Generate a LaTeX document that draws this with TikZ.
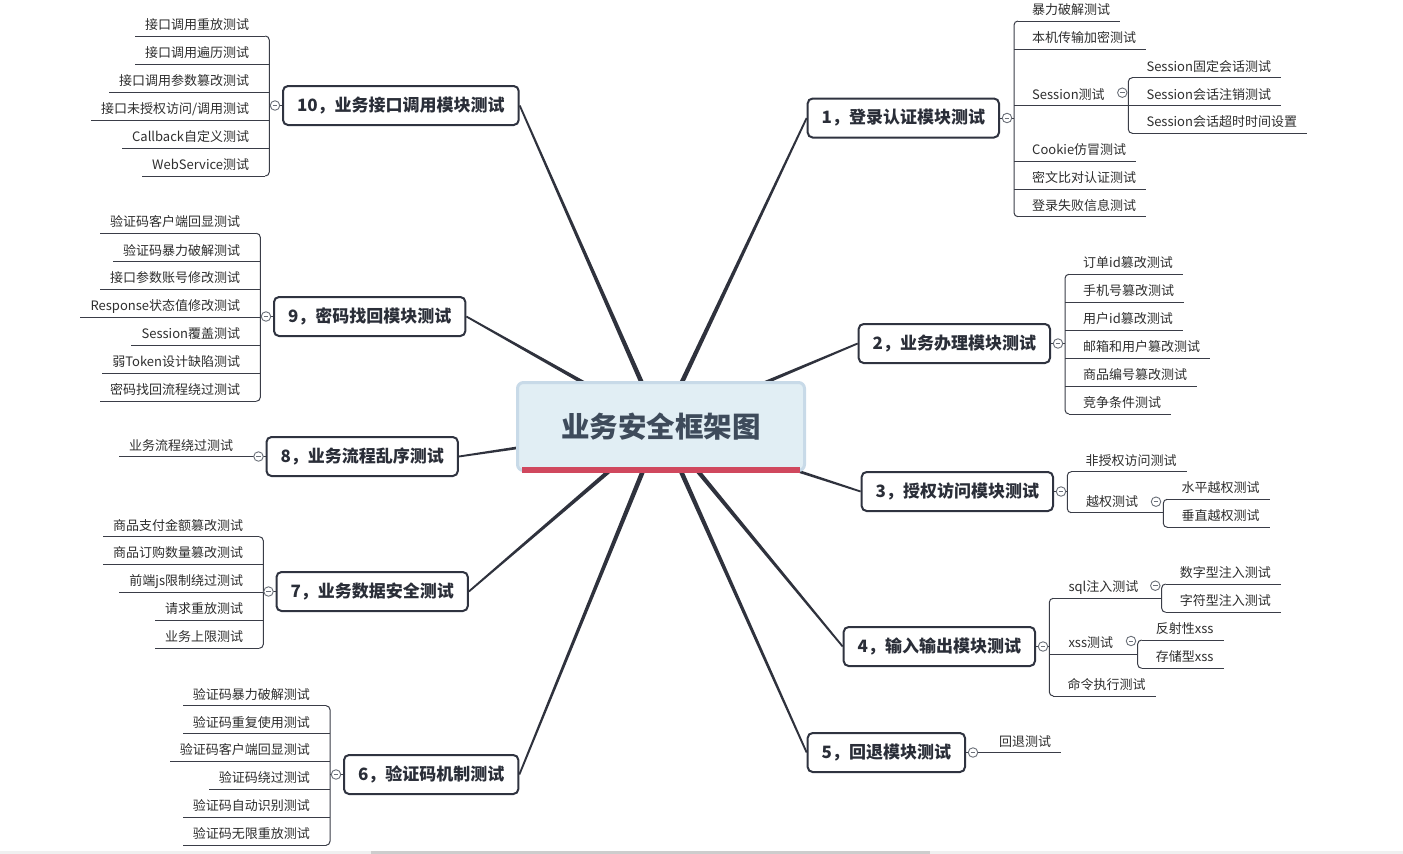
\documentclass[tikz,border=0pt]{standalone}
\usepackage{fontspec}
\setmainfont{Noto Sans CJK SC}
\usetikzlibrary{calc}
\definecolor{connc}{HTML}{2F323D}
\definecolor{linec}{HTML}{3A3D47}
\definecolor{boxc}{HTML}{2F3340}
\definecolor{boxtext}{HTML}{2A2E38}
\definecolor{leafc}{HTML}{2E2E2E}
\definecolor{togc}{HTML}{6B7079}
\definecolor{ctrf}{HTML}{E1EEF4}
\definecolor{ctrb}{HTML}{C8DAE8}
\definecolor{ctrt}{HTML}{3E4B5B}
\definecolor{redc}{HTML}{D0485E}
\definecolor{sbl}{HTML}{F0F0F0}
\definecolor{sbd}{HTML}{CDCDCD}
\tikzset{
  leaf/.style={font=\fontsize{13}{15}\selectfont, text=leafc, inner sep=0pt},
  ul/.style={draw=linec, line width=1pt},
  mainnode/.style={draw=boxc, line width=2pt, rounded corners=5pt, fill=white,
    font=\fontsize{17}{20}\selectfont\bfseries, text=boxtext, inner xsep=14pt, inner ysep=0pt, minimum height=39pt},
  toggle/.style={circle, draw=togc, line width=0.9pt, fill=white, minimum size=9.5pt, inner sep=0pt,
    path picture={\draw[togc, line width=0.8pt] ([xshift=-2.4pt]path picture bounding box.center) -- ([xshift=2.4pt]path picture bounding box.center);}},
  conn/.style={fill=connc},
}
\newcommand\rleaf[5]{%
  \node[leaf,anchor=base west] (#1) at ({#3+18},{#4-6.5}) {#5};
  \coordinate (u#1) at (#2,#4);
  \draw[ul] (u#1) -- ($(#1.east |- u#1)+(10,0)$);
}
\newcommand\lleaf[5]{%
  \node[leaf,anchor=base east] (#1) at ({#3-20},{#4-6.5}) {#5};
  \coordinate (u#1) at (#2,#4);
  \draw[ul] (u#1) -- ($(#1.west |- u#1)+(-10,0)$);
}
\newcommand\rbr[3]{\draw[ul,rounded corners=4pt] ({#1+4},#2) -- (#1,#2) -- (#1,#3) -- ({#1+4},#3);}
\newcommand\lbr[3]{\draw[ul,rounded corners=4pt] ({#1-4},#2) -- (#1,#2) -- (#1,#3) -- ({#1-4},#3);}
\newcommand\taper[2]{%
  \fill[conn] ($(#1)!2.5pt!90:(#2)$) -- ($(#2)!0.9pt!-90:(#1)$) -- ($(#2)!0.9pt!90:(#1)$) -- ($(#1)!2.5pt!-90:(#2)$) -- cycle;}
\begin{document}
\begin{tikzpicture}[x=1pt,y=-1pt]
\useasboundingbox (0,0) rectangle (1403,854);
\fill[white] (0,0) rectangle (1403,854);
\fill[sbl] (0,851) rectangle (1403,854);
\fill[sbd] (371,851) rectangle (930,854);

% main nodes
\node[mainnode, anchor=east] (n1) at (1000,118) {1，登录认证模块测试};
\node[mainnode, anchor=east] (n2) at (1051,343.5) {2，业务办理模块测试};
\node[mainnode, anchor=east] (n3) at (1054,491.5) {3，授权访问模块测试};
\node[mainnode, anchor=east] (n4) at (1036,646.5) {4，输入输出模块测试};
\node[mainnode, anchor=east] (n5) at (966,752.5) {5，回退模块测试};
\node[mainnode, anchor=west] (n6) at (343,774.5) {6，验证码机制测试};
\node[mainnode, anchor=west] (n7) at (275.5,591.5) {7，业务数据安全测试};
\node[mainnode, anchor=west] (n8) at (265.5,456.5) {8，业务流程乱序测试};
\node[mainnode, anchor=west] (n9) at (273,316.5) {9，密码找回模块测试};
\node[mainnode, anchor=west] (n10) at (282,105.5) {10，业务接口调用模块测试};

% connectors from the centre
\coordinate (ctrc) at (661,426.5);
\taper{ctrc}{n1.west}
\taper{ctrc}{n2.west}
\taper{ctrc}{n3.west}
\taper{ctrc}{n4.west}
\taper{ctrc}{n5.west}
\taper{ctrc}{n6.east}
\taper{ctrc}{n7.east}
\taper{ctrc}{n8.east}
\taper{ctrc}{n9.east}
\taper{ctrc}{n10.east}

\node[draw=ctrb, line width=3pt, fill=ctrf, rounded corners=6pt, minimum width=287pt, minimum height=88pt,
  font=\fontsize{28.5}{32}\selectfont\bfseries, text=ctrt] (ctr) at (ctrc) {\raisebox{-3pt}{业务安全框架图}};
\fill[redc] ($(ctr.south west)+(6,-5.5)$) rectangle ($(ctr.south east)+(-6,0.5)$);

% ---------- branch 1
\coordinate (k1) at (1014,118);
\draw[ul] (n1.east) -- (k1);
\rleaf{a1}{1018}{1014}{21}{暴力破解测试}
\rleaf{a2}{1014}{1014}{49.3}{本机传输加密测试}
\node[leaf,anchor=base west] (a3) at (1032,99.2) {Session测试};
\coordinate (ua3) at (1014,105.7);
\coordinate (sa3) at (1128.3,105.7);
\draw[ul] (ua3) -- (sa3);
\rleaf{a5}{1014}{1014}{161}{Cookie仿冒测试}
\rleaf{a6}{1014}{1014}{189}{密文比对认证测试}
\rleaf{a7}{1018}{1014}{216.7}{登录失败信息测试}
\rbr{1014}{21}{216.7}
\rleaf{s1}{1132.3}{1128.3}{77.7}{Session固定会话测试}
\rleaf{s2}{1128.3}{1128.3}{105.7}{Session会话注销测试}
\rleaf{s3}{1132.3}{1128.3}{133.3}{Session会话超时时间设置}
\rbr{1128.3}{77.7}{133.3}
\node[toggle] (ts1) at (1122.3,92.7) {};
\node[toggle] (t1) at ($(n1.east)+(7,0)$) {};

% ---------- branch 2
\coordinate (k2) at (1065,343.5);
\draw[ul] (n2.east) -- (k2);
\rleaf{b1}{1069}{1065}{274.3}{订单id篡改测试}
\rleaf{b2}{1065}{1065}{302.3}{手机号篡改测试}
\rleaf{b3}{1065}{1065}{330.3}{用户id篡改测试}
\rleaf{b4}{1065}{1065}{358.3}{邮箱和用户篡改测试}
\rleaf{b5}{1065}{1065}{386}{商品编号篡改测试}
\rleaf{b6}{1069}{1065}{414}{竞争条件测试}
\rbr{1065}{274.3}{414}
\node[toggle] (t2) at ($(n2.east)+(7,0)$) {};

% ---------- branch 3
\coordinate (k3) at (1067.3,491.5);
\draw[ul] (n3.east) -- (k3);
\rleaf{c1}{1071.3}{1067.3}{471.7}{非授权访问测试}
\node[leaf,anchor=base west] (c2) at (1086,506.2) {越权测试};
\coordinate (uc2) at (1071.3,512.7);
\coordinate (sc2) at (1163.3,512.7);
\draw[ul] (uc2) -- (sc2);
\rbr{1067.3}{471.7}{512.7}
\rleaf{d1}{1167.3}{1163.3}{499.3}{水平越权测试}
\rleaf{d2}{1167.3}{1163.3}{527.3}{垂直越权测试}
\rbr{1163.3}{499.3}{527.3}
\node[toggle] (ts3) at (1156,501.7) {};
\node[toggle] (t3) at ($(n3.east)+(7,0)$) {};

% ---------- branch 4
\coordinate (k4) at (1049.3,646.5);
\draw[ul] (n4.east) -- (k4);
\node[leaf,anchor=base west] (e1) at (1068.3,591.8) {sql注入测试};
\coordinate (ue1) at (1053.3,598.3);
\coordinate (se1) at (1161.7,598.3);
\draw[ul] (ue1) -- (se1);
\node[leaf,anchor=base west] (e2) at (1068.3,647.8) {xss测试};
\coordinate (ue2) at (1049.3,654.3);
\coordinate (se2) at (1137.7,654.3);
\draw[ul] (ue2) -- (se2);
\rleaf{e3}{1053.3}{1049.3}{696}{命令执行测试}
\rbr{1049.3}{598.3}{696}
\rleaf{p1}{1165.7}{1161.7}{584}{数字型注入测试}
\rleaf{p2}{1165.7}{1161.7}{612.3}{字符型注入测试}
\rbr{1161.7}{584}{612.3}
\rleaf{q1}{1141.7}{1137.7}{640}{反射性xss}
\rleaf{q2}{1141.7}{1137.7}{668.3}{存储型xss}
\rbr{1137.7}{640}{668.3}
\node[toggle] (ts4a) at (1155.3,585.7) {};
\node[toggle] (ts4b) at (1131,641) {};
\node[toggle] (t4) at ($(n4.east)+(7,0)$) {};

% ---------- branch 5
\node[leaf,anchor=base west] (r1) at (999,746.2) {回退测试};
\draw[ul] (n5.east) -- ($(r1.east |- n5.east)+(10,0)$);
\node[toggle] (t5) at ($(n5.east)+(7,0)$) {};

% ---------- branch 10
\coordinate (k10) at (269.3,105.5);
\draw[ul] (n10.west) -- (k10);
\lleaf{j1}{265.3}{269.3}{36}{接口调用重放测试}
\lleaf{j2}{269.3}{269.3}{64.3}{接口调用遍历测试}
\lleaf{j3}{269.3}{269.3}{92.3}{接口调用参数篡改测试}
\lleaf{j4}{269.3}{269.3}{120.3}{接口未授权访问/调用测试}
\lleaf{j5}{269.3}{269.3}{148.3}{Callback自定义测试}
\lleaf{j6}{265.3}{269.3}{176}{WebService测试}
\lbr{269.3}{36}{176}
\node[toggle] (t10) at ($(n10.west)+(-7,0)$) {};

% ---------- branch 9
\coordinate (k9) at (260.3,316.5);
\draw[ul] (n9.west) -- (k9);
\lleaf{i1}{256.3}{260.3}{233.3}{验证码客户端回显测试}
\lleaf{i2}{260.3}{260.3}{261.7}{验证码暴力破解测试}
\lleaf{i3}{260.3}{260.3}{289.3}{接口参数账号修改测试}
\lleaf{i4}{260.3}{260.3}{317.3}{Response状态值修改测试}
\lleaf{i5}{260.3}{260.3}{345.3}{Session覆盖测试}
\lleaf{i6}{260.3}{260.3}{373.3}{弱Token设计缺陷测试}
\lleaf{i7}{256.3}{260.3}{401.3}{密码找回流程绕过测试}
\lbr{260.3}{233.3}{401.3}
\node[toggle] (t9) at ($(n9.west)+(-7,0)$) {};

% ---------- branch 8
\node[leaf,anchor=base east] (h1) at (233.3,450) {业务流程绕过测试};
\draw[ul] (n8.west) -- ($(h1.west |- n8.west)+(-10,0)$);
\node[toggle] (t8) at ($(n8.west)+(-7,0)$) {};

% ---------- branch 7
\coordinate (k7) at (263.3,591.5);
\draw[ul] (n7.west) -- (k7);
\lleaf{g1}{259.3}{263.3}{536.7}{商品支付金额篡改测试}
\lleaf{g2}{263.3}{263.3}{564.3}{商品订购数量篡改测试}
\lleaf{g3}{263.3}{263.3}{592.3}{前端js限制绕过测试}
\lleaf{g4}{263.3}{263.3}{620.3}{请求重放测试}
\lleaf{g5}{259.3}{263.3}{648.3}{业务上限测试}
\lbr{263.3}{536.7}{648.3}
\node[toggle] (t7) at ($(n7.west)+(-7,0)$) {};

% ---------- branch 6
\coordinate (k6) at (330,774.5);
\draw[ul] (n6.west) -- (k6);
\lleaf{f1}{326}{330}{705.7}{验证码暴力破解测试}
\lleaf{f2}{330}{330}{733.7}{验证码重复使用测试}
\lleaf{f3}{330}{330}{761.3}{验证码客户端回显测试}
\lleaf{f4}{330}{330}{789}{验证码绕过测试}
\lleaf{f5}{330}{330}{817.3}{验证码自动识别测试}
\lleaf{f6}{326}{330}{845.3}{验证码无限重放测试}
\lbr{330}{705.7}{845.3}
\node[toggle] (t6) at ($(n6.west)+(-7,0)$) {};
\end{tikzpicture}
\end{document}
